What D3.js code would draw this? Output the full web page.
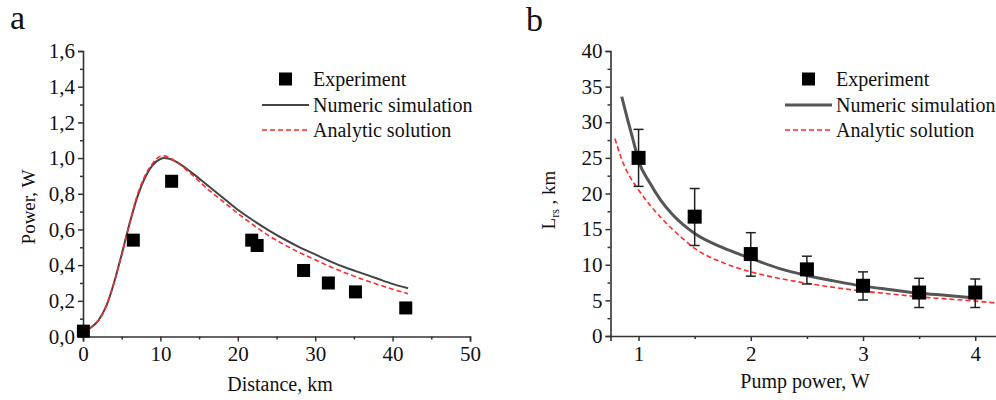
<!DOCTYPE html>
<html>
<head>
<meta charset="utf-8">
<script src="https://cdn.jsdelivr.net/npm/d3@7"></script>
<style>
  body { margin: 0; background: #fff; }
  svg { display: block; font-family: "Liberation Serif", "Times New Roman", serif; }
</style>
</head>
<body>
<svg id="chart" width="996" height="400"></svg>
<script>
// Panel a: power vs distance
const expDist = [0.05, 6.5, 11.45, 21.8, 22.5, 28.5, 31.7, 35.2, 41.7];
const expPower = [0.03, 0.54, 0.87, 0.54, 0.51, 0.37, 0.30, 0.25, 0.16];

const simDist = [0, 1, 2, 3, 4, 5, 6, 7, 8, 9, 10, 10.5, 11, 12, 14, 16, 18, 20, 22, 24, 26, 28, 30, 32, 34, 36, 38, 40, 42];
const simPower = [0.03, 0.05, 0.09, 0.17, 0.30, 0.46, 0.63, 0.78, 0.89, 0.96, 0.995, 1.0, 0.998, 0.98, 0.92, 0.85, 0.78, 0.71, 0.65, 0.595, 0.545, 0.50, 0.46, 0.42, 0.385, 0.355, 0.325, 0.295, 0.27];
const anaPower = [0.03, 0.05, 0.09, 0.17, 0.30, 0.46, 0.63, 0.79, 0.90, 0.97, 1.01, 1.012, 1.005, 0.98, 0.91, 0.83, 0.76, 0.69, 0.625, 0.565, 0.515, 0.47, 0.43, 0.39, 0.355, 0.322, 0.293, 0.265, 0.24];

const xTicksA = [0, 10, 20, 30, 40, 50];
const yTicksA = [0, 0.2, 0.4, 0.6, 0.8, 1.0, 1.2, 1.4, 1.6];

// Panel b: Lrs vs pump power
const pumpExp = [1, 1.5, 2, 2.5, 3, 3.5, 4];
const lrsExp = [25, 16.75, 11.5, 9.35, 7.05, 6.1, 6.1];
const lrsHi = [29, 20.7, 14.5, 11.2, 9.0, 8.1, 8.0];
const lrsLo = [21, 12.7, 8.4, 7.3, 5.05, 4.0, 4.0];

const pumpSim = [0.85, 0.9, 0.95, 1.0, 1.1, 1.2, 1.3, 1.4, 1.5, 1.75, 2.0, 2.25, 2.5, 2.75, 3.0, 3.25, 3.5, 3.75, 4.0];
const lrsSim = [33.6, 30.5, 27.6, 24.6, 21.5, 19.0, 17.1, 15.6, 14.4, 12.4, 10.9, 9.5, 8.5, 7.7, 7.0, 6.5, 6.0, 5.7, 5.35];

const pumpAna = [0.79, 0.85, 0.9, 1.0, 1.1, 1.2, 1.3, 1.4, 1.5, 1.75, 2.0, 2.25, 2.5, 2.75, 3.0, 3.25, 3.5, 3.75, 4.0, 4.2];
const lrsAna = [27.7, 24.8, 23.0, 20.5, 18.4, 16.6, 15.0, 13.6, 12.3, 10.3, 9.0, 8.1, 7.4, 6.8, 6.3, 5.9, 5.5, 5.2, 4.9, 4.6];

const xTicksB = [1, 2, 3, 4];
const yTicksB = [0, 5, 10, 15, 20, 25, 30, 35, 40];

const legendLabels = ["Experiment", "Numeric simulation", "Analytic solution"];

const svg = d3.select("#chart");
const axisColor = "#333";
const simColor = "#444";
const anaColor = "#ff2a2a";
const comma = v => d3.format(".1f")(v).replace(".", ",");

// scales
const xA = d3.scaleLinear().domain([0, 50]).range([83, 470]);
const yA = d3.scaleLinear().domain([0, 1.6]).range([336.5, 51]);
const xB = d3.scaleLinear().domain([0.75, 4.2]).range([610.5, 997.7]);
const yB = d3.scaleLinear().domain([0, 40]).range([336, 51]);

function drawAxes(x, y, xTicks, yTicks, xMinor, yMinor, yFmt) {
  const gx = svg.append("g").attr("transform", `translate(0,${y.range()[0]})`);
  gx.call(d3.axisBottom(x).tickValues(xMinor).tickSize(3).tickFormat(""));
  gx.call(g => g.selectAll(".tick line").attr("stroke", axisColor).attr("stroke-width", 1.5));
  const gx2 = svg.append("g").attr("transform", `translate(0,${y.range()[0]})`);
  gx2.call(d3.axisBottom(x).tickValues(xTicks).tickSize(5).tickPadding(5).tickFormat(d3.format("d")));
  gx2.select(".domain").attr("stroke", axisColor).attr("stroke-width", 1.6);
  gx2.selectAll(".tick line").attr("stroke", axisColor).attr("stroke-width", 1.5);
  gx2.selectAll("text").attr("font-size", 21).attr("fill", "#111").attr("font-family", "Liberation Serif");
  gx.select(".domain").remove();

  const gy = svg.append("g").attr("transform", `translate(${x.range()[0]},0)`);
  gy.call(d3.axisLeft(y).tickValues(yMinor).tickSize(3).tickFormat(""));
  gy.select(".domain").remove();
  gy.selectAll(".tick line").attr("stroke", axisColor).attr("stroke-width", 1.5);
  const gy2 = svg.append("g").attr("transform", `translate(${x.range()[0]},0)`);
  gy2.call(d3.axisLeft(y).tickValues(yTicks).tickSize(5).tickPadding(3).tickFormat(yFmt));
  gy2.select(".domain").attr("stroke", axisColor).attr("stroke-width", 1.6);
  gy2.selectAll(".tick line").attr("stroke", axisColor).attr("stroke-width", 1.5);
  gy2.selectAll("text").attr("font-size", 21).attr("fill", "#111").attr("font-family", "Liberation Serif");
}

drawAxes(xA, yA, xTicksA, yTicksA, d3.range(5, 50, 10), d3.range(0.1, 1.6, 0.2), comma);
drawAxes(xB, yB, xTicksB, yTicksB, [1.5, 2.5, 3.5], d3.range(2.5, 40, 5), d3.format("d"));

// panel a curves
const lineA = d3.line().x(d => xA(d[0])).y(d => yA(d[1])).curve(d3.curveMonotoneX);
svg.append("path").datum(d3.zip(simDist, simPower)).attr("d", lineA)
  .attr("fill", "none").attr("stroke", simColor).attr("stroke-width", 2);
svg.append("path").datum(d3.zip(simDist, anaPower)).attr("d", lineA)
  .attr("fill", "none").attr("stroke", anaColor).attr("stroke-width", 1.6).attr("stroke-dasharray", "5,3");

const sq = 13;
svg.append("g").selectAll("rect").data(d3.zip(expDist, expPower)).join("rect")
  .attr("x", d => xA(d[0]) - sq / 2).attr("y", d => yA(d[1]) - sq / 2)
  .attr("width", sq).attr("height", sq).attr("fill", "#000");

// panel b curves
const lineB = d3.line().x(d => xB(d[0])).y(d => yB(d[1])).curve(d3.curveMonotoneX);
svg.append("path").datum(d3.zip(pumpSim, lrsSim)).attr("d", lineB)
  .attr("fill", "none").attr("stroke", "#555").attr("stroke-width", 3);
svg.append("path").datum(d3.zip(pumpAna, lrsAna)).attr("d", lineB)
  .attr("fill", "none").attr("stroke", anaColor).attr("stroke-width", 1.6).attr("stroke-dasharray", "5,3");

// error bars
const errB = svg.append("g").attr("stroke", "#222").attr("stroke-width", 1.5);
pumpExp.forEach((p, i) => {
  const cx = xB(p);
  errB.append("line").attr("x1", cx).attr("x2", cx).attr("y1", yB(lrsHi[i])).attr("y2", yB(lrsLo[i]));
  errB.append("line").attr("x1", cx - 5).attr("x2", cx + 5).attr("y1", yB(lrsHi[i])).attr("y2", yB(lrsHi[i]));
  errB.append("line").attr("x1", cx - 5).attr("x2", cx + 5).attr("y1", yB(lrsLo[i])).attr("y2", yB(lrsLo[i]));
});
svg.append("g").selectAll("rect").data(d3.zip(pumpExp, lrsExp)).join("rect")
  .attr("x", d => xB(d[0]) - 7).attr("y", d => yB(d[1]) - 7)
  .attr("width", 14).attr("height", 14).attr("fill", "#000");

// legends
function legend(x0, lineW, simW) {
  const rows = [79, 105, 130];
  const g = svg.append("g");
  g.append("rect").attr("x", x0 + lineW / 2 - 6.5).attr("y", rows[0] - 6.5)
    .attr("width", 13).attr("height", 13).attr("fill", "#000");
  g.append("line").attr("x1", x0).attr("x2", x0 + lineW).attr("y1", rows[1]).attr("y2", rows[1])
    .attr("stroke", simW > 2 ? "#555" : simColor).attr("stroke-width", simW);
  g.append("line").attr("x1", x0).attr("x2", x0 + lineW).attr("y1", rows[2]).attr("y2", rows[2])
    .attr("stroke", anaColor).attr("stroke-width", 1.6).attr("stroke-dasharray", "5,3");
  g.selectAll("text").data(legendLabels).join("text")
    .attr("x", x0 + lineW + 4).attr("y", (d, i) => rows[i]).attr("dy", "0.35em")
    .attr("font-size", 20).attr("fill", "#111").text(d => d);
}
legend(262, 47, 2);
legend(785, 47, 3);

// axis titles
svg.append("text").attr("x", 280).attr("y", 391).attr("text-anchor", "middle")
  .attr("font-size", 20).attr("fill", "#111").text("Distance, km");
svg.append("text").attr("x", 805).attr("y", 388).attr("text-anchor", "middle")
  .attr("font-size", 20).attr("fill", "#111").text("Pump power, W");
svg.append("text").attr("transform", "translate(35,207) rotate(-90)").attr("text-anchor", "middle")
  .attr("font-size", 19).attr("fill", "#111").text("Power, W");
const lt = svg.append("text").attr("transform", "translate(555,200) rotate(-90)").attr("text-anchor", "middle")
  .attr("font-size", 19).attr("fill", "#111");
lt.append("tspan").text("L");
lt.append("tspan").attr("font-size", 12).attr("dy", 4).text("rs");
lt.append("tspan").attr("dy", -4).text(" , km");

// panel letters
svg.append("text").attr("x", 10).attr("y", 29).attr("font-size", 34).attr("fill", "#111").text("a");
svg.append("text").attr("x", 526).attr("y", 31).attr("font-size", 34).attr("fill", "#111").text("b");
</script>
</body>
</html>
